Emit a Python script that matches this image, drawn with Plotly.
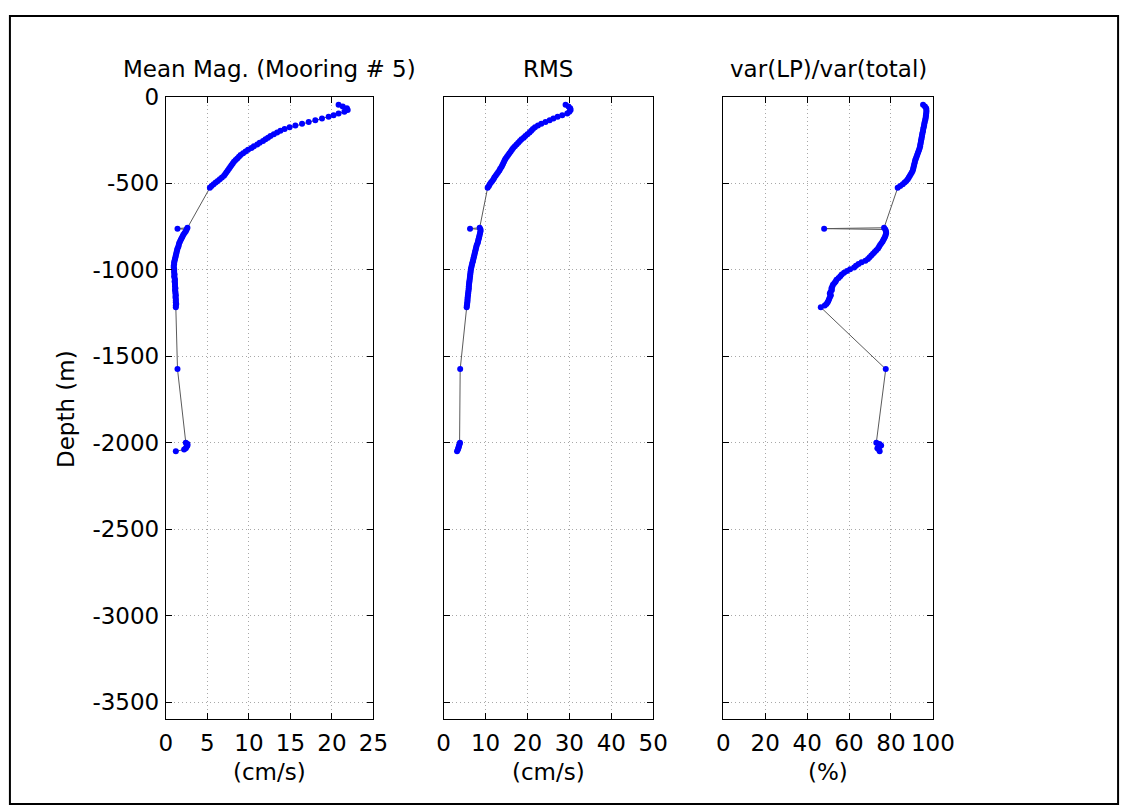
import plotly.graph_objects as go
import pandas as pd

# ---------------- data ----------------
# upper ADCP bins (m)
depth_upper = [-47, -57, -67, -77, -87, -97, -107, -117, -127, -137, -147, -157, -167, -177, -187,
               -197, -207, -217, -227, -237, -247, -257, -267, -277, -287, -297, -307, -317, -327,
               -337, -347, -357, -367, -377, -387, -397, -407, -417, -427, -437, -447, -457, -467,
               -477, -487, -497, -507, -517, -527]
mean_upper = [20.8, 21.3, 21.8, 21.9, 21.5, 20.8, 20.2, 19.6, 18.8, 18.0, 17.2, 16.4, 15.6, 14.9, 14.3,
              13.8, 13.4, 13.0, 12.6, 12.3, 12.0, 11.7, 11.3, 11.0, 10.6, 10.3, 9.9, 9.6, 9.3,
              9.0, 8.8, 8.6, 8.4, 8.2, 8.05, 7.9, 7.75, 7.6, 7.45, 7.3, 7.15, 7.0, 6.75,
              6.5, 6.25, 6.0, 5.75, 5.5, 5.3]
rms_upper = [29.1, 29.8, 30.2, 30.3, 30.0, 29.5, 28.3, 27.2, 26.2, 25.3, 24.3, 23.3, 22.5, 21.8, 21.3,
             20.9, 20.5, 20.0, 19.5, 19.1, 18.6, 18.2, 17.8, 17.4, 17.0, 16.6, 16.3, 16.0, 15.7,
             15.4, 15.1, 14.8, 14.6, 14.4, 14.2, 14.0, 13.8, 13.5, 13.3, 13.0, 12.7, 12.4, 12.1,
             11.9, 11.6, 11.3, 11.0, 10.8, 10.5]
ratio_upper = [95.3, 96.2, 96.8, 96.9, 96.9, 96.8, 96.7, 96.6, 96.5, 96.3, 96.1, 95.9, 95.8, 95.6, 95.4,
               95.3, 95.1, 94.9, 94.8, 94.6, 94.5, 94.3, 94.2, 94.0, 93.9, 93.7, 93.4, 93.1, 92.8,
               92.5, 92.2, 91.9, 91.6, 91.4, 91.2, 91.0, 90.8, 90.6, 90.4, 90.0, 89.5, 89.0, 88.5,
               88.0, 87.3, 86.5, 85.6, 84.4, 83.2]

# lower ADCP bins (m)
depth_lower = [-758, -768, -778, -788, -798, -808, -818, -828, -838, -848, -858, -868, -878, -888,
               -898, -908, -918, -928, -938, -948, -958, -968, -978, -988, -998, -1008, -1018, -1028,
               -1038, -1048, -1058, -1068, -1078, -1088, -1098, -1108, -1118, -1128, -1138, -1148,
               -1158, -1168, -1178, -1188, -1198, -1208, -1218]
mean_lower = [2.6, 2.5, 2.4, 2.25, 2.1, 2.0, 1.9, 1.8, 1.7, 1.6, 1.55, 1.5, 1.4, 1.35,
              1.3, 1.25, 1.2, 1.15, 1.1, 1.05, 1.0, 1.0, 0.95, 0.95, 1.0, 1.0, 1.0, 1.05,
              1.0, 1.05, 1.1, 1.05, 1.1, 1.1, 1.1, 1.15, 1.1, 1.15, 1.15, 1.2,
              1.15, 1.2, 1.2, 1.2, 1.25, 1.2, 1.2]
rms_lower = [8.6, 8.8, 8.8, 8.7, 8.6, 8.5, 8.4, 8.3, 8.2, 8.1, 7.9, 7.8, 7.7, 7.6,
             7.5, 7.4, 7.3, 7.2, 7.1, 7.0, 6.9, 6.8, 6.7, 6.6, 6.5, 6.45, 6.4, 6.35,
             6.3, 6.25, 6.2, 6.15, 6.1, 6.05, 6.0, 6.0, 5.95, 5.9, 5.85, 5.8,
             5.75, 5.7, 5.7, 5.65, 5.6, 5.55, 5.5]
ratio_lower = [76.7, 77.3, 77.6, 77.7, 77.5, 77.2, 76.8, 76.4, 76.0, 75.4, 74.8, 74.3, 73.8, 73.0,
               72.2, 71.4, 70.6, 69.8, 69.0, 67.8, 66.0, 64.5, 63.3, 62.4, 60.5, 59.0, 57.6, 56.5,
               55.8, 55.0, 54.0, 53.6, 53.0, 52.3, 52.0, 51.6, 51.8, 51.2, 50.8, 51.3,
               50.9, 50.5, 50.2, 49.8, 49.2, 48.4, 46.5]

# single current meters (m)
depth_single = [-763, -1575]
mean_single = [1.4, 1.4]
rms_single = [6.3, 3.95]
ratio_single = [48.1, 77.5]

# bottom instrument bins (m)
depth_bottom = [-2000, -2008, -2016, -2024, -2032, -2040, -2050]
mean_bottom = [2.4, 2.6, 2.6, 2.5, 2.4, 2.2, 1.2]
rms_bottom = [3.9, 3.8, 3.7, 3.6, 3.5, 3.4, 3.2]
ratio_bottom = [73.0, 74.5, 75.3, 74.0, 73.5, 74.3, 74.6]

titles = ["Mean Mag. (Mooring # 5)", "RMS", "var(LP)/var(total)"]
xlabels = ["(cm/s)", "(cm/s)", "(%)"]
x_ranges = [[0, 25], [0, 50], [0, 100]]
x_ticks = [[0, 5, 10, 15, 20, 25], [0, 10, 20, 30, 40, 50], [0, 20, 40, 60, 80, 100]]
y_ticks = [0, -500, -1000, -1500, -2000, -2500, -3000, -3500]
y_ticktext = ["0", "-500", "-1000", "-1500", "-2000", "-2500", "-3000", "-3500"]
y_range = [-3600, 0]
y_label = "Depth (m)"

# ---------------- build table ----------------
df = pd.DataFrame({
    "depth": depth_upper + depth_lower + depth_single + depth_bottom,
    "mean": mean_upper + mean_lower + mean_single + mean_bottom,
    "rms": rms_upper + rms_lower + rms_single + rms_bottom,
    "ratio": ratio_upper + ratio_lower + ratio_single + ratio_bottom,
}).sort_values("depth", ascending=False)

W, H = 1143, 807
FONT = "DejaVu Sans, sans-serif"
FS = 23

# panel pixel extents
panel_x = [(163, 376), (448, 663), (735, 950)]
top_px, bot_px = 85, 718

fig = go.Figure()
cols = ["mean", "rms", "ratio"]
for i, c in enumerate(cols):
    xa = "x" if i == 0 else f"x{i+1}"
    ya = "y" if i == 0 else f"y{i+1}"
    fig.add_trace(go.Scatter(x=df[c], y=df["depth"], mode="lines",
                             line=dict(color="#5a5a5a", width=1),
                             xaxis=xa, yaxis=ya, showlegend=False, hoverinfo="skip"))
    fig.add_trace(go.Scatter(x=df[c], y=df["depth"], mode="markers",
                             marker=dict(color="#0000ff", size=6, line=dict(width=0)),
                             xaxis=xa, yaxis=ya, showlegend=False))

axis_common = dict(showline=True, linecolor="black", linewidth=1, mirror="ticks",
                   ticks="inside", ticklen=6, tickcolor="black", tickwidth=1,
                   showgrid=True, gridcolor="#a8a8a8", griddash="1px,3px", gridwidth=1,
                   zeroline=False, tickfont=dict(family=FONT, size=FS, color="black"))

layout = dict(width=W, height=H, margin=dict(l=0, r=0, t=0, b=0),
              paper_bgcolor="white", plot_bgcolor="white", showlegend=False)

annotations = []
for i in range(3):
    sfx = "" if i == 0 else str(i + 1)
    x0, x1 = panel_x[i]
    layout["xaxis" + sfx] = dict(axis_common, domain=[x0 / W, x1 / W], range=x_ranges[i],
                                 tickvals=x_ticks[i], anchor="y" + sfx, ticklabelstandoff=3)
    ydict = dict(axis_common, domain=[1 - bot_px / H, 1 - top_px / H], range=y_range,
                 tickvals=y_ticks, ticktext=y_ticktext, anchor="x" + sfx,
                 showticklabels=(i == 0), ticklabelstandoff=1)
    layout["yaxis" + sfx] = ydict
    cx = (x0 + x1) / 2 / W
    annotations.append(dict(text=titles[i], x=cx, y=1 - 57 / H, xref="paper", yref="paper",
                            showarrow=False, xanchor="center", yanchor="middle",
                            font=dict(family=FONT, size=FS, color="black")))
    annotations.append(dict(text=xlabels[i], x=cx, y=1 - 771 / H, xref="paper", yref="paper",
                            showarrow=False, xanchor="center", yanchor="middle",
                            font=dict(family=FONT, size=FS, color="black")))

annotations.append(dict(text=y_label, x=60 / W, y=1 - 402 / H, xref="paper", yref="paper",
                        showarrow=False, textangle=-90, xanchor="center", yanchor="middle",
                        font=dict(family=FONT, size=FS, color="black")))
layout["annotations"] = annotations
layout["shapes"] = [dict(type="rect", xref="paper", yref="paper",
                         x0=3 / W, x1=1140 / W, y0=1 - 804 / H, y1=1 - 3 / H,
                         line=dict(color="black", width=2), fillcolor="rgba(0,0,0,0)")]
fig.update_layout(**layout)
fig.write_html("out.html",
               post_script="document.body.style.margin='0px';document.body.style.overflow='hidden';")
